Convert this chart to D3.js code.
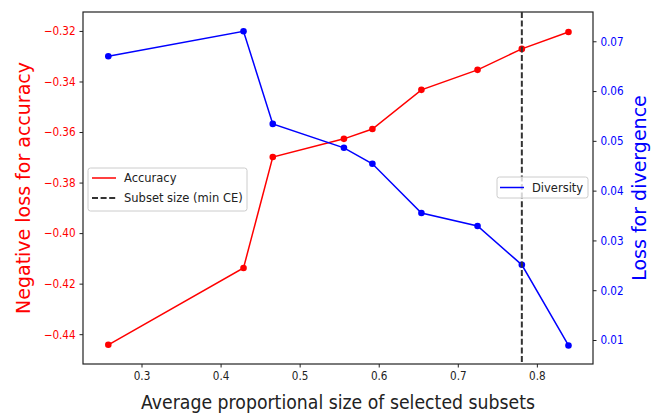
<!DOCTYPE html>
<html>
<head>
<meta charset="utf-8">
<script src="https://cdn.jsdelivr.net/npm/d3@7"></script>
<style>
  body { margin: 0; background: #fff; }
  text { font-family: "DejaVu Sans", sans-serif; }
</style>
</head>
<body>
<div class="myBox"></div>
<script>

// data
var sizes = [0.258, 0.429, 0.466, 0.556, 0.592, 0.654, 0.725, 0.781, 0.840];
var accuracy = [-0.4442, -0.4138, -0.3699, -0.3627, -0.3588, -0.3433, -0.3354, -0.3271, -0.3204];
var diversity = [0.0670, 0.0720, 0.0534, 0.0486, 0.0454, 0.0355, 0.0329, 0.0251, 0.0089];
var subsetSize = 0.781;
var xTicks = [0.3, 0.4, 0.5, 0.6, 0.7, 0.8];
var accTicks = [-0.44, -0.42, -0.40, -0.38, -0.36, -0.34, -0.32];
var divTicks = [0.01, 0.02, 0.03, 0.04, 0.05, 0.06, 0.07];

var width = 655;
var height = 418;
// plot box (note: "top" is taken by window.top)
var plotL = 83, plotR = 593, plotT = 12, plotB = 364;

// the original picture is squeezed sideways a bit
var squeeze = "scale(0.87,1)";

var svg = d3.select(".myBox")
  .append("svg")
  .attr("width", width)
  .attr("height", height);

var x = d3.scaleLinear().domain([0.226, 0.871]).range([plotL, plotR]);
var yAcc = d3.scaleLinear().domain([-0.4518, -0.3125]).range([plotB, plotT]);
var yDiv = d3.scaleLinear().domain([0.00518, 0.07588]).range([plotB, plotT]);

// axes
var xAxis = svg.append("g")
  .attr("transform", "translate(0," + plotB + ")")
  .call(d3.axisBottom(x).tickValues(xTicks).tickSize(3.5).tickPadding(4).tickFormat(d3.format(".1f")));
xAxis.selectAll("text").attr("fill", "#222").style("font-size", "12px").attr("transform", squeeze);

var leftAxis = svg.append("g")
  .attr("transform", "translate(" + plotL + ",0)")
  .call(d3.axisLeft(yAcc).tickValues(accTicks).tickSize(3.5).tickPadding(5).tickFormat(d3.format(".2f")));
leftAxis.selectAll("text").attr("fill", "#ff0000").style("font-size", "12px").attr("transform", squeeze);

var rightAxis = svg.append("g")
  .attr("transform", "translate(" + plotR + ",0)")
  .call(d3.axisRight(yDiv).tickValues(divTicks).tickSize(3.5).tickPadding(5).tickFormat(d3.format(".2f")));
rightAxis.selectAll("text").attr("fill", "#0000ff").style("font-size", "12px").attr("transform", squeeze);

svg.selectAll(".domain").remove();
svg.selectAll(".tick line").attr("stroke", "#222");

// frame
svg.append("rect")
  .attr("x", plotL).attr("y", plotT)
  .attr("width", plotR - plotL).attr("height", plotB - plotT)
  .attr("fill", "none").attr("stroke", "#222").attr("stroke-width", 1.2);

// series
var pts = sizes.map(function(s, i) { return { x: s, acc: accuracy[i], div: diversity[i] }; });

var accLine = d3.line().x(function(d) { return x(d.x); }).y(function(d) { return yAcc(d.acc); });
var divLine = d3.line().x(function(d) { return x(d.x); }).y(function(d) { return yDiv(d.div); });

svg.append("path").datum(pts)
  .attr("d", accLine).attr("fill", "none").attr("stroke", "#ff0000").attr("stroke-width", 1.5);
svg.selectAll(".accDot").data(pts).enter().append("circle")
  .attr("class", "accDot")
  .attr("cx", function(d) { return x(d.x); })
  .attr("cy", function(d) { return yAcc(d.acc); })
  .attr("r", 3.3).attr("fill", "#ff0000");

svg.append("path").datum(pts)
  .attr("d", divLine).attr("fill", "none").attr("stroke", "#0000ff").attr("stroke-width", 1.5);
svg.selectAll(".divDot").data(pts).enter().append("circle")
  .attr("class", "divDot")
  .attr("cx", function(d) { return x(d.x); })
  .attr("cy", function(d) { return yDiv(d.div); })
  .attr("r", 3.3).attr("fill", "#0000ff");

// subset size line
svg.append("line")
  .attr("x1", x(subsetSize)).attr("x2", x(subsetSize))
  .attr("y1", plotT).attr("y2", plotB)
  .attr("stroke", "#333").attr("stroke-width", 2)
  .attr("stroke-dasharray", "6,2.6");

// axis labels
svg.append("text")
  .attr("transform", "translate(23," + (plotT + plotB) / 2 + ") rotate(-90)")
  .attr("text-anchor", "middle").attr("dy", "0.35em")
  .attr("fill", "#ff0000").style("font-size", "19px")
  .text("Negative loss for accuracy");

svg.append("text")
  .attr("transform", "translate(639," + (plotT + plotB) / 2 + ") rotate(-90)")
  .attr("text-anchor", "middle").attr("dy", "0.35em")
  .attr("fill", "#0000ff").style("font-size", "19px")
  .text("Loss for divergence");

svg.append("text")
  .attr("x", 141).attr("y", 409)
  .attr("textLength", 394).attr("lengthAdjust", "spacingAndGlyphs")
  .attr("fill", "#222").style("font-size", "19px")
  .text("Average proportional size of selected subsets");

// legends
var leg1 = svg.append("g");
leg1.append("rect")
  .attr("x", 88).attr("y", 168).attr("width", 159).attr("height", 43)
  .attr("rx", 2.5).attr("fill", "#fff").attr("fill-opacity", 0.8)
  .attr("stroke", "#ccc");
leg1.append("line").attr("x1", 92).attr("x2", 116).attr("y1", 178).attr("y2", 178)
  .attr("stroke", "#ff0000").attr("stroke-width", 1.5);
leg1.append("text").attr("x", 124).attr("y", 178).attr("dy", "0.35em")
  .style("font-size", "11.5px").attr("fill", "#222").text("Accuracy");
leg1.append("line").attr("x1", 92).attr("x2", 116).attr("y1", 198).attr("y2", 198)
  .attr("stroke", "#333").attr("stroke-width", 2).attr("stroke-dasharray", "6,2.6");
leg1.append("text").attr("x", 124).attr("y", 198).attr("dy", "0.35em")
  .style("font-size", "11.5px").attr("fill", "#222").text("Subset size (min CE)");

var leg2 = svg.append("g");
leg2.append("rect")
  .attr("x", 497).attr("y", 177).attr("width", 91).attr("height", 21)
  .attr("rx", 2.5).attr("fill", "#fff").attr("fill-opacity", 0.8)
  .attr("stroke", "#ccc");
leg2.append("line").attr("x1", 500).attr("x2", 524).attr("y1", 187.5).attr("y2", 187.5)
  .attr("stroke", "#0000ff").attr("stroke-width", 1.5);
leg2.append("text").attr("x", 532).attr("y", 187.5).attr("dy", "0.35em")
  .style("font-size", "11.5px").attr("fill", "#222").text("Diversity");

</script>
</body>
</html>
